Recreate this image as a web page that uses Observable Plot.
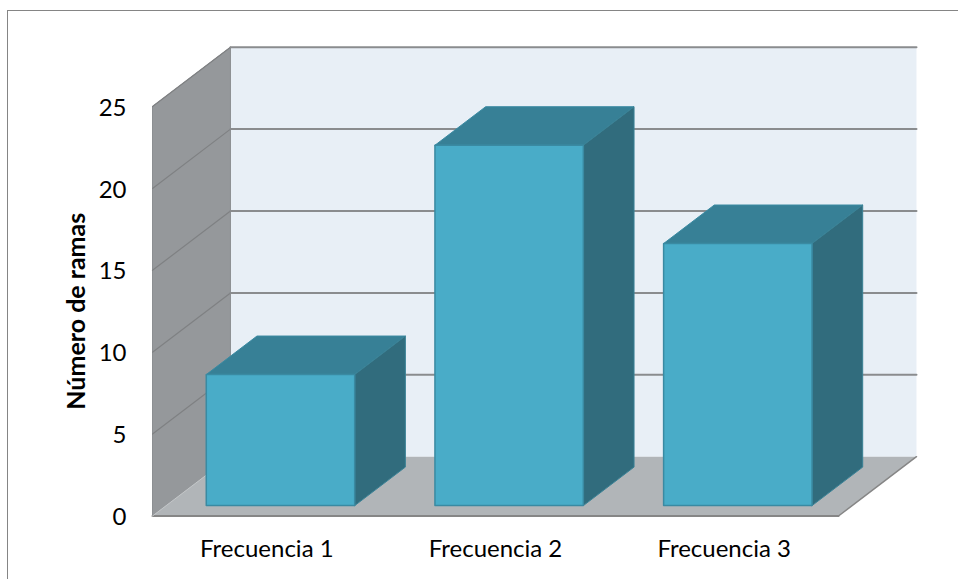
<!DOCTYPE html>
<html lang="es">
<head>
<meta charset="utf-8">
<title>Número de ramas por frecuencia</title>
<script src="https://cdn.jsdelivr.net/npm/d3@7"></script>
<script src="https://cdn.jsdelivr.net/npm/@observablehq/plot@0.6"></script>
<style>
  html, body { margin: 0; padding: 0; background: #fff; }
  #chart { position: relative; width: 958px; height: 579px; overflow: hidden; }
  #chart svg { display: block; position: absolute; left: 0; top: 0; background: transparent; }
  #outline { position: absolute; left: 7px; top: 10px; right: 0; bottom: 0;
             border-left: 1px solid #858585; border-top: 1px solid #858585; }
</style>
</head>
<body>
<div id="chart"><div id="outline"></div></div>
<script>
// Chart values
const categories = ["Frecuencia 1", "Frecuencia 2", "Frecuencia 3"];
const ramas = [8, 22, 16];
const yTicks = [0, 5, 10, 15, 20, 25];
const yTitle = "Número de ramas";

// Oblique projection of the box: full depth of the chart, in scale units
const depthX = 0.341;
const depthY = 3.62;
const barWidth = 0.649;
const barNear = 0.175;
const barFar = 0.825;
const yMax = 25;

// Maps (category position, value, depth 0..1) to scale coordinates
const at = (c, v, z) => ({x: c + z * depthX, y: v + z * depthY});

// A closed filled polygon drawn as a line mark
const face = (corners, fill, stroke, strokeWidth) =>
  Plot.line([...corners, corners[0]], {x: "x", y: "y", fill, stroke, strokeWidth, strokeLinejoin: "miter"});
const edge = (corners, stroke, strokeWidth) =>
  Plot.line(corners, {x: "x", y: "y", stroke, strokeWidth});

const n = categories.length;

const walls = [
  // back wall
  face([at(0, 0, 1), at(n, 0, 1), at(n, yMax, 1), at(0, yMax, 1)], "#e8eff6", "none", 0),
  // side wall
  face([at(0, 0, 0), at(0, 0, 1), at(0, yMax, 1), at(0, yMax, 0)], "#95989b", "#8c8f92", 1),
  // floor
  face([at(0, 0, 0), at(n, 0, 0), at(n, 0, 1), at(0, 0, 1)], "#b1b5b8", "none", 0),
  edge([at(0, 0, 0), at(n, 0, 0)], "#868686", 2),
  edge([at(n, 0, 0), at(n, 0, 1)], "#868686", 1.5),
  edge([at(0, 0, 0), at(0, 0, 1)], "#c4c7c9", 1)
];

// Gridlines run along the side wall and across the back wall
const grid = yTicks.filter((t) => t > 0).flatMap((t) => [
  edge([at(0, t, 0), at(0, t, 1)], "#7f8183", 1.2),
  edge([at(0, t, 1), at(n, t, 1)], "#8a8c8e", 2)
]);

// Each bar: top, side and front faces
const bars = ramas.flatMap((v, i) => {
  const left = i + 0.5 - barWidth / 2;
  const right = i + 0.5 + barWidth / 2;
  return [
    face([at(left, v, barNear), at(right, v, barNear), at(right, v, barFar), at(left, v, barFar)],
      "#378096", "#3a8aa2", 1),
    face([at(right, 0, barNear), at(right, 0, barFar), at(right, v, barFar), at(right, v, barNear)],
      "#316c7d", "#3a8296", 1),
    face([at(left, 0, barNear), at(right, 0, barNear), at(right, v, barNear), at(left, v, barNear)],
      "#49acc8", "#3a8aa2", 1.5)
  ];
});

const chart = Plot.plot({
  width: 958,
  height: 579,
  marginLeft: 152,
  marginRight: 120,
  marginTop: 106,
  marginBottom: 63.5,
  x: {domain: [0, n], axis: null},
  y: {domain: [0, yMax]},
  style: {fontFamily: "Lato, sans-serif", fontSize: "24px", color: "#000", overflow: "visible"},
  marks: [
    ...walls,
    ...grid,
    ...bars,
    Plot.axisY({ticks: yTicks, tickSize: 0, tickPadding: 26, dy: 1.5, label: null, fontSize: 24, color: "#000"}),
    Plot.text(categories, {
      x: (d, i) => i + 0.5,
      y: () => 0,
      dy: 33,
      fontSize: 24,
      fill: "#000"
    }),
    Plot.text([yTitle], {
      frameAnchor: "left",
      textAnchor: "middle",
      dx: -76,
      rotate: -90,
      fontSize: 25,
      fontWeight: "bold",
      fill: "#000"
    })
  ]
});

document.getElementById("chart").append(chart);
</script>
</body>
</html>
